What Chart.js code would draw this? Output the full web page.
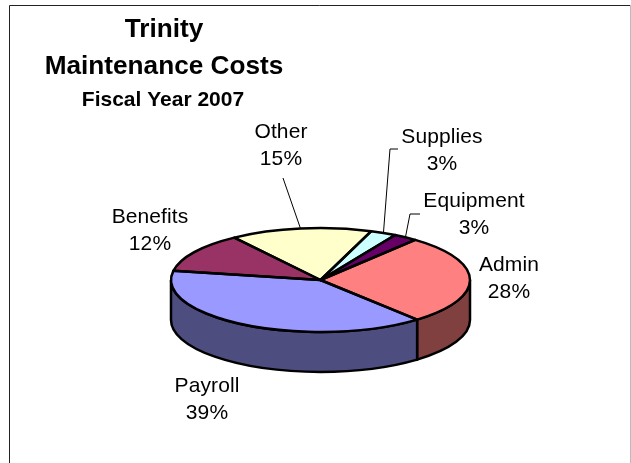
<!DOCTYPE html>
<html>
<head>
<meta charset="utf-8">
<title>Trinity Maintenance Costs</title>
<script src="https://cdn.jsdelivr.net/npm/chart.js@4"></script>
<style>
    html, body { margin: 0; padding: 0; background: #fff; overflow: hidden; }
    canvas { display: block; }
</style>
</head>
<body>
<canvas id="grafico" width="631" height="463"></canvas>
<script>
// Chart data (the labels round them to whole percents)
const categories = ["Admin", "Payroll", "Benefits", "Other", "Supplies", "Equipment"];
const values = [27.9, 39, 12.4, 15.3, 2.8, 2.6];
const titleLines = ["Trinity", "Maintenance Costs", "Fiscal Year 2007"];

// Colours
const topColors = ["#ff8080", "#9999ff", "#993366", "#ffffcc", "#ccffff", "#660066"];
const sideColors = ["#804040", "#4d4d80", "#4d1a33", "#808066", "#668080", "#330033"];

// Layout of the flattened pie
const FLATTEN = 0.347;
const DEPTH = 40;
const FONT = '"Liberation Sans", Arial, sans-serif';

// Where each label sits: x, first line y, and the bend of the leader line if any
const labelPlaces = [
    { x: 509, y: 265 },
    { x: 207, y: 386 },
    { x: 150, y: 217 },
    { x: 281, y: 132, leader: [[283, 178]] },
    { x: 442, y: 137, leader: [[390, 149], [398, 149]] },
    { x: 474, y: 201, leader: [[410, 214], [420, 214]] }
];

// Traces the rim of the ellipse between two angles of a slice
function rim(ctx, arc, a, b, dy, back) {
    ctx.ellipse(arc.x, arc.y + dy, arc.outerRadius, arc.outerRadius * FLATTEN, 0, a, b, back);
}

// Walls of the slices that face the viewer
function drawWalls(chart) {
    const ctx = chart.ctx;
    chart.getDatasetMeta(0).data.forEach((arc, i) => {
        const a = Math.max(arc.startAngle, 0);
        const b = Math.min(arc.endAngle, Math.PI);
        if (a >= b) return;
        ctx.beginPath();
        rim(ctx, arc, a, b, 0, false);
        rim(ctx, arc, b, a, DEPTH, true);
        ctx.closePath();
        ctx.fillStyle = sideColors[i];
        ctx.fill();
        ctx.lineWidth = 2.5;
        ctx.strokeStyle = "#000";
        ctx.stroke();
    });
}

// Outline of the top face, drawn outside the squash so the line keeps its width
function drawOutlines(chart) {
    const ctx = chart.ctx;
    chart.getDatasetMeta(0).data.forEach(arc => {
        ctx.beginPath();
        ctx.moveTo(arc.x, arc.y);
        rim(ctx, arc, arc.startAngle, arc.endAngle, 0, false);
        ctx.closePath();
        ctx.lineWidth = 2.5;
        ctx.lineJoin = "round";
        ctx.strokeStyle = "#000";
        ctx.stroke();
    });
}

function drawLabels(chart) {
    const ctx = chart.ctx;
    const arcs = chart.getDatasetMeta(0).data;
    const total = values.reduce((s, v) => s + v, 0);
    ctx.textAlign = "center";
    ctx.textBaseline = "middle";
    ctx.fillStyle = "#000";
    ctx.font = "21px " + FONT;
    ctx.letterSpacing = "0.1px";

    categories.forEach((name, i) => {
        const place = labelPlaces[i];
        ctx.fillText(name, place.x, place.y);
        ctx.fillText(Math.round(values[i] / total * 100) + "%", place.x, place.y + 27);

        if (place.leader) {
            const arc = arcs[i];
            const mid = (arc.startAngle + arc.endAngle) / 2;
            ctx.beginPath();
            ctx.moveTo(arc.x + arc.outerRadius * Math.cos(mid),
                       arc.y + arc.outerRadius * FLATTEN * Math.sin(mid));
            place.leader.forEach(p => ctx.lineTo(p[0], p[1]));
            ctx.lineWidth = 1;
            ctx.strokeStyle = "#000";
            ctx.stroke();
        }
    });
}

function drawTitle(chart) {
    const ctx = chart.ctx;
    ctx.textAlign = "center";
    ctx.textBaseline = "middle";
    ctx.fillStyle = "#000";
    ctx.letterSpacing = "0px";
    ctx.font = "bold 26.2px " + FONT;
    ctx.fillText(titleLines[0], 164, 30);
    ctx.fillText(titleLines[1], 164, 67);
    ctx.font = "bold 21px " + FONT;
    ctx.fillText(titleLines[2], 163, 100);
}

function drawFrame(chart) {
    const ctx = chart.ctx;
    ctx.lineWidth = 1;
    ctx.strokeStyle = "#222";
    ctx.beginPath();
    ctx.moveTo(9.5, 463);
    ctx.lineTo(9.5, 5.5);
    ctx.lineTo(630, 5.5);
    ctx.stroke();
    ctx.strokeStyle = "#bbb";
    ctx.beginPath();
    ctx.moveTo(630.5, 5);
    ctx.lineTo(630.5, 463);
    ctx.stroke();
}

const pie3d = {
    id: "pie3d",
    beforeDatasetsDraw(chart) {
        const ctx = chart.ctx;
        const arc = chart.getDatasetMeta(0).data[0];
        drawWalls(chart);
        // squash the library's own slices into an ellipse
        ctx.save();
        ctx.translate(0, arc.y);
        ctx.scale(1, FLATTEN);
        ctx.translate(0, -arc.y);
    },
    afterDatasetsDraw(chart) {
        chart.ctx.restore();
        drawOutlines(chart);
        drawFrame(chart);
        drawLabels(chart);
        drawTitle(chart);
    }
};

new Chart(document.getElementById("grafico").getContext("2d"), {
    type: "pie",
    data: {
        labels: categories,
        datasets: [{
            data: values,
            backgroundColor: topColors,
            borderWidth: 0
        }]
    },
    options: {
        responsive: false,
        animation: false,
        rotation: 39.3,
        layout: { padding: { left: 171, right: 161, top: 130, bottom: 33 } },
        plugins: {
            legend: { display: false },
            tooltip: { enabled: false }
        }
    },
    plugins: [pie3d]
});
</script>
</body>
</html>
